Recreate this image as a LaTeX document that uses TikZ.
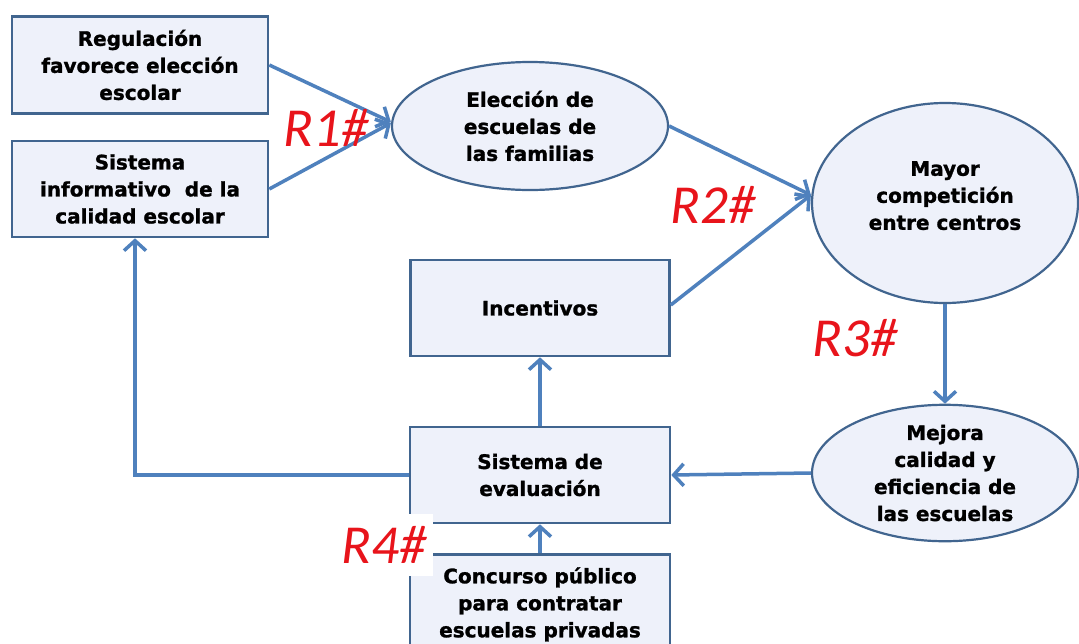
\documentclass[tikz,border=0pt]{standalone}
\usepackage{fontspec}
\setmainfont{DejaVu Sans}[BoldFeatures={FakeBold=1.3}]
\newfontfamily\labfont{Carlito}
\usetikzlibrary{arrows.meta,shapes.geometric,calc}
\definecolor{bordc}{HTML}{41658F}
\definecolor{fillc}{HTML}{EEF1FA}
\definecolor{arrc}{HTML}{4F81BD}
\definecolor{labred}{HTML}{E8141B}
\tikzset{
  boxn/.style={draw=bordc, line width=2.6pt, fill=fillc, rectangle, align=center,
    font=\fontsize{20}{27}\selectfont\bfseries, inner sep=2pt},
  elln/.style={draw=bordc, line width=2.2pt, fill=fillc, ellipse, align=center,
    font=\fontsize{20}{27}\selectfont\bfseries, inner sep=0pt},
  arr/.style={draw=arrc, line width=3.5pt, -{Straight Barb[length=10pt,width=22pt,line width=3.5pt]}},
  rlab/.style={text=labred, font=\labfont\fontsize{55}{55}\selectfont\itshape, inner sep=0pt}
}
\begin{document}
\begin{tikzpicture}[x=1pt,y=-1pt]
\useasboundingbox[fill=white] (0,0) rectangle (1079,643);
\begin{scope}
\clip (0,0) rectangle (1079,643);
\node[boxn, minimum width=256pt, minimum height=97pt] (reg) at (140,65) {Regulación\\favorece elección\\escolar};
\node[boxn, minimum width=256pt, minimum height=96pt] (inf) at (140,189) {Sistema\\informativo \ de la\\calidad escolar};
\node[elln, minimum width=276pt, minimum height=128pt] (ele) at (530,126) {Elección de\\escuelas de\\las familias};
\node[elln, minimum width=266pt, minimum height=200pt] (may) at (945,203) {Mayor\\competición\\entre centros\\[-12pt]~};
\node[boxn, minimum width=259pt, minimum height=96pt] (inc) at (540,308) {Incentivos};
\node[boxn, minimum width=260pt, minimum height=96pt] (eva) at (540,475) {Sistema de\\evaluación};
\node[boxn, minimum width=260pt, minimum height=96pt, anchor=north, text depth=0pt] (con) at (540,553) {Concurso público\\para contratar\\escuelas privadas};
\node[elln, minimum width=266pt, minimum height=134pt] (mej) at (945,473) {Mejora\\calidad y\\eficiencia de\\las escuelas};

\draw[arr] (reg.east) -- ([yshift=4pt]ele.west);
\draw[arr] (inf.east) -- ([yshift=3pt]ele.west);
\draw[arr] (ele.east) -- ([yshift=8pt]may.west);
\draw[arr] ([yshift=3pt]inc.east) -- ([yshift=8pt]may.west);
\draw[arr] (may.south) -- (mej.north);
\draw[arr] (mej.west) -- (eva.east);
\draw[arr] (eva.north) -- (inc.south);
\draw[arr] (con.north) -- (eva.south);
\draw[arr] (eva.west) -| ([xshift=-5pt]inf.south);

\node[rlab] (r1) at (326,128) {R1\#};
\node[rlab] (r2) at (713,205) {R2\#};
\node[rlab] (r3) at (855,338) {R3\#};
\node[rlab, fill=white, inner xsep=6pt, inner ysep=12pt] (r4) at (384,545) {R4\#};
\end{scope}
\end{tikzpicture}
\end{document}
